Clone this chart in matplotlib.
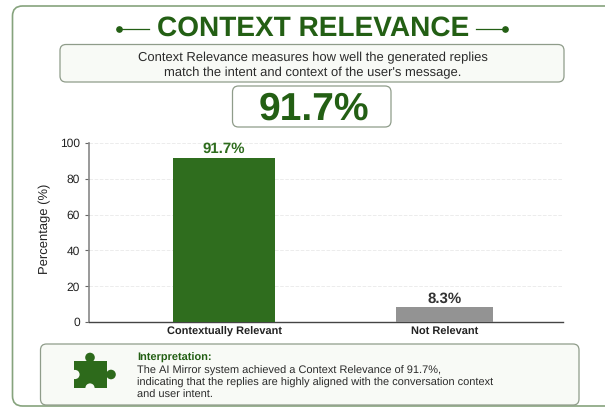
import matplotlib
matplotlib.use("Agg")
import matplotlib.pyplot as plt
from matplotlib.patches import FancyBboxPatch, Circle, Rectangle

# Dados do grafico
categorias = ["Contextually Relevant", "Not Relevant"]
valores = [91.7, 8.3]
rotulos = ["91.7%", "8.3%"]
ticks_y = [0, 20, 40, 60, 80, 100]

titulo = "CONTEXT RELEVANCE"
descricao = ["Context Relevance measures how well the generated replies",
             "match the intent and context of the user's message."]
destaque = "91.7%"
interpretacao = ["The AI Mirror system achieved a Context Relevance of 91.7%,",
                 "indicating that the replies are highly aligned with the conversation context",
                 "and user intent."]

VERDE_ESCURO = "#235f14"
VERDE_BARRA = "#2f6d1e"
VERDE_ICONE = "#2d6a1b"
CINZA_BARRA = "#939393"
BORDA = "#8f9c8a"
FUNDO_CAIXA = "#f8faf6"
TEXTO = "#2b2b2b"
W, H = 605, 407

plt.rcParams["font.family"] = ["Liberation Sans", "DejaVu Sans"]
plt.rcParams["text.hinting"] = "no_hinting"
plt.rcParams["text.hinting_factor"] = 1
fig = plt.figure(figsize=(W / 100, H / 100), dpi=100, facecolor="white")

# Fundo em coordenadas de pixel
bg = fig.add_axes([0, 0, 1, 1])
bg.set_xlim(0, W)
bg.set_ylim(H, 0)
bg.axis("off")


def caixa(x0, y0, x1, y1, raio=6, face=FUNDO_CAIXA, borda=BORDA, lw=0.9):
    bg.add_patch(FancyBboxPatch((x0 + raio, y0 + raio), x1 - x0 - 2 * raio, y1 - y0 - 2 * raio,
                                boxstyle=f"round,pad={raio},rounding_size={raio}",
                                facecolor=face, edgecolor=borda, linewidth=lw))


# Moldura externa (sai da imagem a direita)
caixa(12.5, 6, 640, 406, raio=10, face="white", borda="#86a37d", lw=1.2)

# Titulo com enfeites
bg.text(313, 28, titulo, ha="center", va="center", fontsize=19.8, fontweight="bold", color=VERDE_ESCURO)
bg.plot([119, 149], [28.5, 28.5], color=VERDE_ESCURO, lw=0.9)
bg.plot([476, 505], [28.5, 28.5], color=VERDE_ESCURO, lw=0.9)
bg.plot([119, 505], [28.5, 28.5], ls="none", marker="o", ms=3.8, color=VERDE_ESCURO)

# Descricao
caixa(60, 44.5, 564, 82)
bg.text(313, 58, descricao[0], ha="center", va="center", fontsize=9.4, color=TEXTO)
bg.text(313, 73, descricao[1], ha="center", va="center", fontsize=9.4, color=TEXTO)

# Valor em destaque
caixa(232.5, 86, 391, 127, face="white")
bg.text(314, 109.5, destaque, ha="center", va="center", fontsize=28.4, fontweight="bold", color=VERDE_ESCURO)

# Caixa de interpretacao
caixa(40.5, 344, 579, 405)
bg.text(137, 358, "Interpretation:", ha="left", va="center", fontsize=8.2, fontweight="bold", color=VERDE_ESCURO)
for y, linha in zip([370.5, 383, 395.5], interpretacao):
    bg.text(137, y, linha, ha="left", va="center", fontsize=7.9, color=TEXTO)

# Peca de quebra-cabeca
bg.add_patch(Rectangle((74, 361), 32.5, 27, facecolor=VERDE_ICONE, edgecolor="none"))
bg.add_patch(Circle((90, 357.5), 4.8, facecolor=VERDE_ICONE, edgecolor="none"))
bg.add_patch(Circle((111, 374.5), 4.8, facecolor=VERDE_ICONE, edgecolor="none"))
bg.add_patch(Circle((75, 374.5), 4.6, facecolor=FUNDO_CAIXA, edgecolor="none"))
bg.add_patch(Circle((90, 388), 4.6, facecolor=FUNDO_CAIXA, edgecolor="none"))

# Grafico de barras: eixo de 89 a 563 px, y de 322 a 143 px
ax = fig.add_axes([89 / W, 1 - 322 / H, (563 - 89) / W, (322 - 143) / H])
ax.patch.set_alpha(0)
posicoes = range(len(categorias))
ax.bar(posicoes, valores, width=[0.463, 0.44], color=[VERDE_BARRA, CINZA_BARRA], zorder=3)
ax.set_xlim(-0.612, 1.537)
ax.set_ylim(0, 100)
ax.set_yticks(ticks_y)
ax.set_xticks(list(posicoes), categorias)
ax.tick_params(axis="y", labelsize=8.8, length=3, width=0.8, color="#666666", pad=3.5, labelcolor="#222222")
ax.tick_params(axis="x", labelsize=8.1, length=0, pad=3.5, labelcolor="#222222")
for lab in ax.get_xticklabels():
    lab.set_fontweight("bold")
ax.set_ylabel("Percentage (%)", fontsize=9, color="#222222", labelpad=6.5, y=0.522)
ax.grid(True, axis="y", linestyle="--", color="#ececec", linewidth=0.7, zorder=0)
ax.spines["top"].set_visible(False)
ax.spines["right"].set_visible(False)
ax.spines["left"].set_color("#888888")
ax.spines["left"].set_linewidth(1.2)
ax.spines["bottom"].set_color("#444444")
ax.spines["bottom"].set_linewidth(1.0)

cores_rotulo = [VERDE_BARRA, "#333333"]
for p, v, r, c in zip(posicoes, valores, rotulos, cores_rotulo):
    ax.annotate(r, (p, v), xytext=(0, 1), textcoords="offset points", ha="center", va="bottom",
                fontsize=10.6, fontweight="bold", color=c)

fig.savefig("out.png", dpi=100)
